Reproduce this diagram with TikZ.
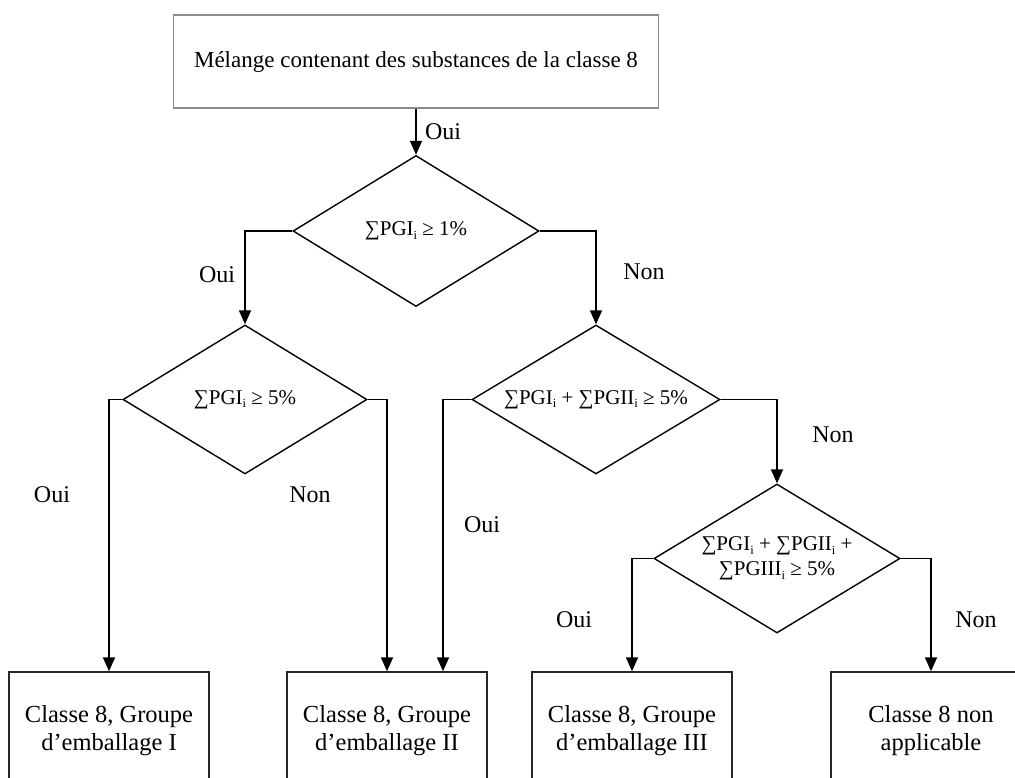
\documentclass[tikz,border=0pt]{standalone}
\usepackage{fontspec}
\setmainfont{Liberation Serif}
\usetikzlibrary{shapes.geometric,arrows.meta}
\newcommand\sbi{\raisebox{-0.35ex}{\fontsize{12.5}{12.5}\selectfont i}}
\begin{document}
\begin{tikzpicture}[x=1pt,y=-1pt,
  topbox/.style={draw=black!45, line width=1.8, minimum width=485, minimum height=93, inner sep=0, font=\fontsize{23}{27}\selectfont},
  dia/.style={diamond, draw, line width=1.4, inner sep=0, shape aspect=1.65, align=center, font=\fontsize{21}{25}\selectfont},
  endbox/.style={draw=black!85, line width=1.4, minimum width=200, minimum height=118, inner sep=0, align=center, font=\fontsize{24.5}{28}\selectfont},
  lbl/.style={font=\fontsize{24}{28}\selectfont, inner sep=0},
  conn/.style={line width=1.8, -{Triangle[length=14pt,width=12pt]}}]
\useasboundingbox (0,0) rectangle (1015,778);
\clip (0,0) rectangle (1015,778);

\node[topbox] (top) at (416,61.5) {Mélange contenant des substances de la classe 8};

\node[dia, minimum width=246, minimum height=151] (d1) at (416,231) {∑PGI\sbi{} ≥ 1\%};
\node[dia, minimum width=244, minimum height=149] (d2) at (245,399.5) {∑PGI\sbi{} ≥ 5\%};
\node[dia, minimum width=248, minimum height=149] (d3) at (596,399.5) {∑PGI\sbi{} + ∑PGII\sbi{} ≥ 5\%};
\node[dia, minimum width=246, minimum height=149] (d4) at (777,558.5) {∑PGI\sbi{} + ∑PGII\sbi{} +\\∑PGIII\sbi{} ≥ 5\%};

\node[endbox] (b1) at (109,731) {Classe 8, Groupe\\d’emballage I};
\node[endbox] (b2) at (387,731) {Classe 8, Groupe\\d’emballage II};
\node[endbox] (b3) at (632,731) {Classe 8, Groupe\\d’emballage III};
\node[endbox] (b4) at (931,731) {Classe 8 non\\applicable};

\draw[conn] (top.south) -- (d1.north);
\draw[conn] (d1.west) -| (d2.north);
\draw[conn] (d1.east) -| (d3.north);
\draw[conn] (d2.west) -| (b1.north);
\draw[conn] (d2.east) -| (b2.north);
\draw[conn] (d3.west) -| ([xshift=56]b2.north);
\draw[conn] (d3.east) -| (d4.north);
\draw[conn] (d4.west) -| (b3.north);
\draw[conn] (d4.east) -| (b4.north);

\node[lbl] (l1) at (443,132) {Oui};
\node[lbl] (l2) at (217,275) {Oui};
\node[lbl] (l3) at (644,272) {Non};
\node[lbl] (l4) at (52,495) {Oui};
\node[lbl] (l5) at (310,495) {Non};
\node[lbl] (l6) at (482,525) {Oui};
\node[lbl] (l7) at (833,435) {Non};
\node[lbl] (l8) at (574,620) {Oui};
\node[lbl] (l9) at (976,620) {Non};
\end{tikzpicture}
\end{document}
